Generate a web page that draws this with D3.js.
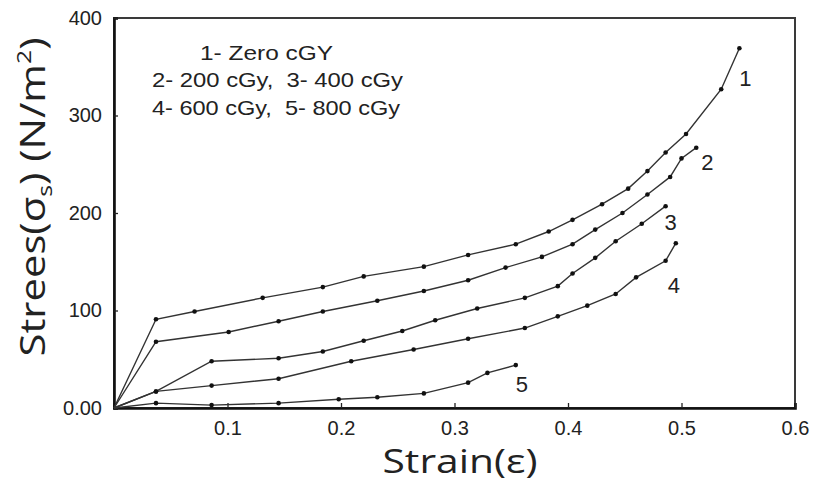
<!DOCTYPE html>
<html>
<head>
<meta charset="utf-8">
<script src="https://cdnjs.cloudflare.com/ajax/libs/d3/7.8.5/d3.min.js"></script>
<style>
  body { margin: 0; background: #fff; }
  svg text { fill: #222; }
  .legend text { font-family: "Liberation Sans", Arial, sans-serif; font-size: 21px; white-space: pre; }
  .curve-label { font-family: "Liberation Sans", Arial, sans-serif; font-size: 22px; }
  .title { font-family: "Open Sans", "Noto Sans", sans-serif; }
</style>
</head>
<body>
<div id="stress-strain-chart"></div>
<script>
// readings per dose, each curve starts at the origin
var strain1 = [0, 0.037, 0.071, 0.131, 0.184, 0.220, 0.273, 0.312, 0.354, 0.383, 0.404, 0.430, 0.453, 0.470, 0.486, 0.504, 0.535, 0.551];
var stress1 = [0, 91, 99, 113, 124, 135, 145, 157, 168, 181, 193, 209, 225, 243, 262, 281, 327, 369];

var strain2 = [0, 0.037, 0.101, 0.145, 0.184, 0.232, 0.273, 0.312, 0.345, 0.377, 0.404, 0.424, 0.448, 0.470, 0.490, 0.500, 0.513];
var stress2 = [0, 68, 78, 89, 99, 110, 120, 131, 144, 155, 168, 183, 200, 219, 237, 256, 267];

var strain3 = [0, 0.037, 0.086, 0.145, 0.184, 0.220, 0.254, 0.283, 0.320, 0.362, 0.391, 0.404, 0.424, 0.442, 0.465, 0.486];
var stress3 = [0, 17, 48, 51, 58, 69, 79, 90, 102, 113, 125, 138, 154, 171, 189, 207];

var strain4 = [0, 0.037, 0.086, 0.145, 0.209, 0.264, 0.312, 0.362, 0.391, 0.417, 0.442, 0.460, 0.486, 0.495];
var stress4 = [0, 17, 23, 30, 48, 60, 71, 82, 94, 105, 117, 134, 151, 169];

var strain5 = [0, 0.037, 0.086, 0.145, 0.198, 0.232, 0.273, 0.312, 0.329, 0.354];
var stress5 = [0, 5, 3, 5, 9, 11, 15, 26, 36, 44];

var curveNames = ["1", "2", "3", "4", "5"];
var legendLines = ["1- Zero cGY", "2- 200 cGy,  3- 400 cGy", "4- 600 cGy,  5- 800 cGy"];

var xTicks = [0.1, 0.2, 0.3, 0.4, 0.5, 0.6];
var xTickLabels = ["0.1", "0.2", "0.3", "0.4", "0.5", "0.6"];
var yTicks = [0, 100, 200, 300, 400];
var yTickLabels = ["0.00", "100", "200", "300", "400"];

(function () {
    // layout
    var width = 815, height = 486;
    var plotLeft = 114, plotTop = 18, plotRight = 795, plotBottom = 408;
    // where the number sits relative to the last point of its curve
    var labelShift = [[6, 30], [11, 14], [5, 16], [-2, 42], [6, 19]];

    var curves = [
        d3.zip(strain1, stress1), d3.zip(strain2, stress2), d3.zip(strain3, stress3),
        d3.zip(strain4, stress4), d3.zip(strain5, stress5)
    ];

    var svg = d3.select("#stress-strain-chart").append("svg")
        .attr("width", width).attr("height", height);

    var x = d3.scaleLinear().domain([0, 0.6]).range([plotLeft, plotRight]);
    var y = d3.scaleLinear().domain([0, 400]).range([plotBottom, plotTop]);

    // frame
    svg.append("rect")
        .attr("x", plotLeft).attr("y", plotTop)
        .attr("width", plotRight - plotLeft).attr("height", plotBottom - plotTop)
        .attr("fill", "none").attr("stroke", "#3a3a3a").attr("stroke-width", 2);

    var xAxis = d3.axisBottom(x).tickValues(xTicks).tickSize(-5).tickPadding(13)
        .tickFormat(function (d, i) { return xTickLabels[i]; });
    var yAxis = d3.axisLeft(y).tickValues(yTicks).tickSize(-4).tickPadding(12)
        .tickFormat(function (d, i) { return yTickLabels[i]; });

    var gx = svg.append("g").attr("transform", "translate(0," + plotBottom + ")").call(xAxis);
    var gy = svg.append("g").attr("transform", "translate(" + plotLeft + ",0)").call(yAxis);
    [gx, gy].forEach(function (g) {
        g.attr("font-family", "'Liberation Sans', Arial, sans-serif").attr("font-size", 20);
        g.select(".domain").attr("stroke", "#111").attr("stroke-width", 2.6);
        g.selectAll(".tick line").attr("stroke", "#222").attr("stroke-width", 1.3);
        g.selectAll(".tick text").attr("fill", "#222");
    });

    // curves
    var line = d3.line().x(function (d) { return x(d[0]); }).y(function (d) { return y(d[1]); });

    svg.append("g").selectAll("path").data(curves).join("path")
        .attr("d", line)
        .attr("fill", "none").attr("stroke", "#333").attr("stroke-width", 1.4);

    svg.append("g").selectAll("g").data(curves).join("g")
        .selectAll("circle").data(function (c) { return c.slice(1); }).join("circle")
        .attr("cx", function (d) { return x(d[0]); })
        .attr("cy", function (d) { return y(d[1]); })
        .attr("r", 2.3).attr("fill", "#111");

    svg.append("g").selectAll("text").data(curves).join("text")
        .attr("class", "curve-label")
        .attr("x", function (c, i) { return x(c[c.length - 1][0]) + labelShift[i][0]; })
        .attr("y", function (c, i) { return y(c[c.length - 1][1]) + labelShift[i][1]; })
        .attr("dy", "0.36em").attr("text-anchor", "middle")
        .text(function (c, i) { return curveNames[i]; });

    // legend block
    var legendPos = [[200, 60, 133], [152, 87, 251], [152, 115, 248]];
    svg.append("g").attr("class", "legend").selectAll("text").data(legendLines).join("text")
        .attr("x", function (d, i) { return legendPos[i][0]; })
        .attr("y", function (d, i) { return legendPos[i][1]; })
        .attr("textLength", function (d, i) { return legendPos[i][2]; })
        .attr("lengthAdjust", "spacingAndGlyphs")
        .text(function (d) { return d; });

    // axis titles
    svg.append("text").attr("class", "title")
        .attr("x", 460).attr("y", 473).attr("text-anchor", "middle")
        .attr("font-size", 32).attr("textLength", 155).attr("lengthAdjust", "spacingAndGlyphs")
        .text("Strain(ε)");

    var yt = svg.append("text").attr("class", "title")
        .attr("transform", "translate(45,197) rotate(-90)")
        .attr("text-anchor", "middle").attr("font-size", 34)
        .attr("textLength", 319).attr("lengthAdjust", "spacingAndGlyphs");
    yt.append("tspan").text("Strees(σ");
    yt.append("tspan").attr("font-size", 20).attr("dy", 7).text("s");
    yt.append("tspan").attr("dy", -7).text(") (N/m");
    yt.append("tspan").attr("font-size", 20).attr("dy", -14).text("2");
    yt.append("tspan").attr("dy", 14).text(")");
})();
</script>
</body>
</html>
